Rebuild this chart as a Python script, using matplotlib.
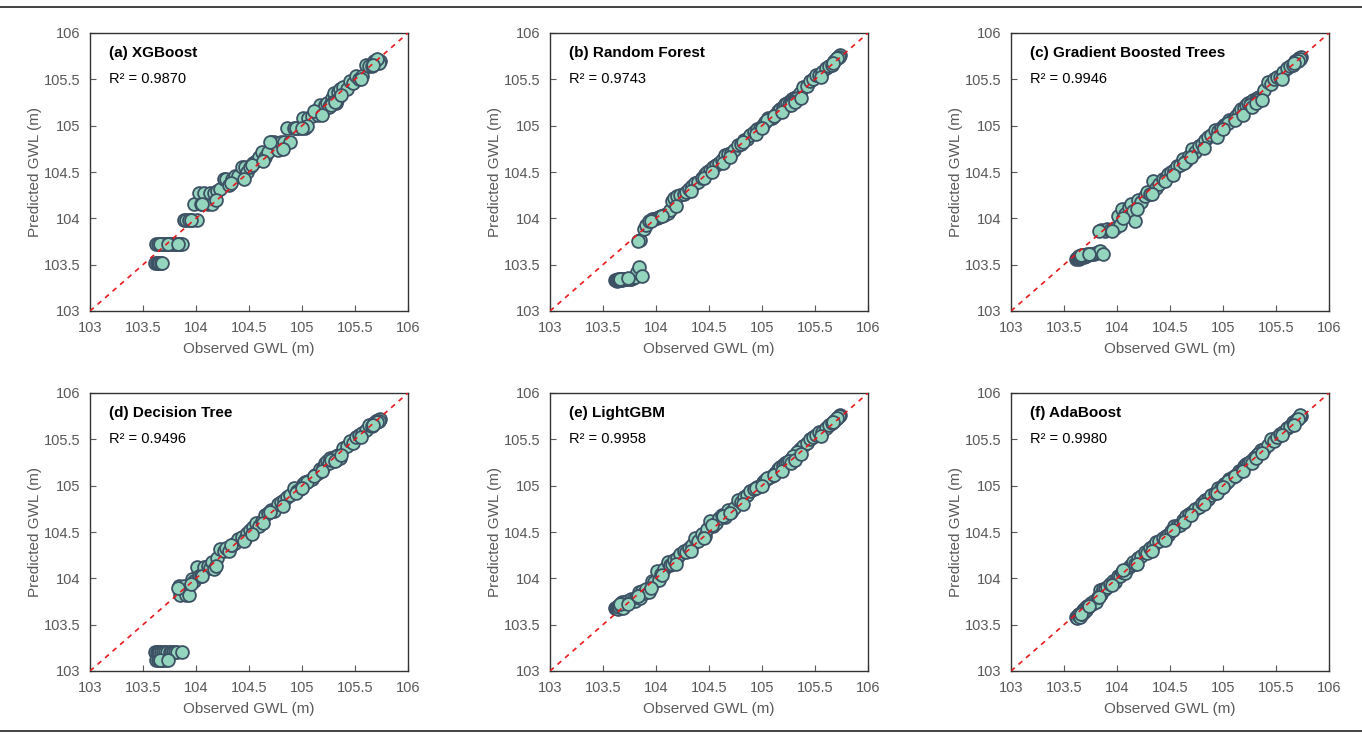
import matplotlib
matplotlib.use("Agg")
import matplotlib.pyplot as plt
from matplotlib.lines import Line2D
import numpy as np

plt.rcParams["font.family"] = ["Liberation Sans", "DejaVu Sans"]

# Observed groundwater levels of the test set (m)
observed = [
    103.61, 103.62, 103.63, 103.64, 103.64, 103.65, 103.66, 103.67, 103.68, 103.69,
    103.70, 103.71, 103.72, 103.73, 103.75, 103.76, 103.78, 103.80, 103.82, 103.84,
    103.85, 103.87, 103.89, 103.91, 103.93, 103.96, 103.98, 104.01, 104.03, 104.05,
    104.08, 104.11, 104.13, 104.15, 104.17, 104.20, 104.23, 104.26, 104.28, 104.31,
    104.34, 104.37, 104.40, 104.43, 104.46, 104.48, 104.51, 104.54, 104.57, 104.59,
    104.62, 104.65, 104.68, 104.71, 104.74, 104.77, 104.80, 104.83, 104.86, 104.89,
    104.92, 104.95, 104.98, 105.01, 105.03, 105.06, 105.09, 105.12, 105.15, 105.17,
    105.20, 105.22, 105.24, 105.26, 105.28, 105.30, 105.32, 105.34, 105.36, 105.39,
    105.42, 105.45, 105.48, 105.51, 105.54, 105.57, 105.60, 105.63, 105.66, 105.68,
    105.70, 105.72, 105.74, 105.73, 105.71, 105.67, 105.33, 105.29, 105.25, 105.05,
    103.66, 103.74, 103.83, 103.95, 104.06, 104.19, 104.33, 104.45, 104.53, 104.63,
    104.70, 104.82, 104.94, 105.00, 105.11, 105.19, 105.27, 105.31, 105.37, 105.56,
]

pred_xgb = [
    103.52, 103.72, 103.52, 103.72, 103.52, 103.52, 103.72, 103.52, 103.52, 103.72,
    103.72, 103.72, 103.72, 103.72, 103.72, 103.72, 103.72, 103.72, 103.72, 103.72,
    103.72, 103.72, 103.98, 103.98, 103.98, 103.98, 104.15, 103.98, 104.27, 104.15,
    104.27, 104.15, 104.27, 104.15, 104.27, 104.30, 104.32, 104.42, 104.42, 104.36,
    104.42, 104.46, 104.46, 104.55, 104.55, 104.50, 104.55, 104.60, 104.62, 104.66,
    104.72, 104.66, 104.72, 104.82, 104.82, 104.74, 104.82, 104.82, 104.98, 104.82,
    104.98, 104.98, 104.98, 105.08, 104.98, 105.08, 105.10, 105.16, 105.12, 105.22,
    105.16, 105.22, 105.25, 105.22, 105.30, 105.35, 105.25, 105.36, 105.40, 105.42,
    105.40, 105.48, 105.46, 105.54, 105.50, 105.54, 105.65, 105.64, 105.64, 105.70,
    105.70, 105.71, 105.70, 105.68, 105.72, 105.66, 105.28, 105.26, 105.20, 105.00,
    103.72, 103.72, 103.72, 103.98, 104.15, 104.20, 104.38, 104.42, 104.58, 104.62,
    104.82, 104.75, 104.98, 104.98, 105.16, 105.12, 105.22, 105.26, 105.33, 105.50,
]

pred_rf = [
    103.33, 103.33, 103.32, 103.34, 103.33, 103.33, 103.34, 103.33, 103.33, 103.34,
    103.34, 103.34, 103.34, 103.35, 103.35, 103.35, 103.36, 103.37, 103.42, 103.47,
    103.77, 103.38, 103.89, 103.93, 103.97, 103.99, 103.99, 104.00, 104.01, 104.02,
    104.04, 104.06, 104.09, 104.19, 104.22, 104.24, 104.25, 104.26, 104.28, 104.32,
    104.35, 104.38, 104.39, 104.44, 104.48, 104.50, 104.52, 104.55, 104.58, 104.60,
    104.63, 104.68, 104.69, 104.71, 104.74, 104.79, 104.80, 104.84, 104.86, 104.90,
    104.93, 104.96, 104.98, 105.01, 105.04, 105.08, 105.08, 105.12, 105.16, 105.18,
    105.20, 105.23, 105.25, 105.27, 105.29, 105.30, 105.31, 105.32, 105.35, 105.42,
    105.43, 105.48, 105.50, 105.55, 105.55, 105.58, 105.62, 105.64, 105.66, 105.70,
    105.72, 105.74, 105.76, 105.74, 105.73, 105.68, 105.30, 105.26, 105.22, 105.06,
    103.34, 103.36, 103.76, 103.97, 104.02, 104.13, 104.30, 104.43, 104.50, 104.60,
    104.66, 104.82, 104.91, 104.97, 105.10, 105.15, 105.22, 105.26, 105.30, 105.52,
]

pred_gbt = [
    103.56, 103.57, 103.58, 103.56, 103.59, 103.57, 103.58, 103.59, 103.60, 103.58,
    103.60, 103.59, 103.61, 103.60, 103.61, 103.62, 103.62, 103.63, 103.64, 103.65,
    103.87, 103.61, 103.86, 103.88, 103.87, 103.89, 103.90, 104.02, 103.93, 104.10,
    104.05, 104.12, 104.16, 104.08, 103.97, 104.20, 104.18, 104.24, 104.28, 104.26,
    104.40, 104.33, 104.37, 104.42, 104.44, 104.48, 104.50, 104.52, 104.56, 104.58,
    104.64, 104.62, 104.67, 104.75, 104.72, 104.78, 104.80, 104.84, 104.88, 104.90,
    104.95, 104.94, 104.98, 105.01, 105.02, 105.06, 105.07, 105.10, 105.15, 105.18,
    105.19, 105.22, 105.24, 105.26, 105.28, 105.27, 105.30, 105.31, 105.30, 105.39,
    105.47, 105.45, 105.50, 105.52, 105.52, 105.58, 105.62, 105.64, 105.66, 105.70,
    105.71, 105.73, 105.74, 105.72, 105.70, 105.68, 105.28, 105.25, 105.22, 105.03,
    103.60, 103.62, 103.86, 103.86, 104.00, 104.10, 104.26, 104.40, 104.47, 104.60,
    104.66, 104.76, 104.88, 104.96, 105.06, 105.12, 105.20, 105.24, 105.28, 105.50,
]

pred_dt = [
    103.20, 103.12, 103.20, 103.12, 103.20, 103.20, 103.12, 103.20, 103.12, 103.20,
    103.12, 103.20, 103.12, 103.20, 103.20, 103.20, 103.20, 103.20, 103.20, 103.92,
    103.82, 103.20, 103.92, 103.82, 103.82, 103.99, 103.97, 104.12, 104.02, 104.02,
    104.12, 104.13, 104.11, 104.18, 104.10, 104.22, 104.32, 104.30, 104.33, 104.30,
    104.36, 104.38, 104.42, 104.45, 104.42, 104.49, 104.52, 104.55, 104.60, 104.57,
    104.62, 104.68, 104.70, 104.74, 104.73, 104.80, 104.82, 104.85, 104.88, 104.90,
    104.98, 104.94, 104.96, 105.02, 105.04, 105.05, 105.07, 105.12, 105.14, 105.18,
    105.19, 105.24, 105.27, 105.30, 105.29, 105.31, 105.28, 105.33, 105.30, 105.41,
    105.43, 105.48, 105.46, 105.53, 105.55, 105.57, 105.60, 105.65, 105.64, 105.68,
    105.70, 105.71, 105.72, 105.70, 105.69, 105.65, 105.32, 105.27, 105.24, 105.04,
    103.12, 103.12, 103.90, 103.94, 104.03, 104.13, 104.36, 104.40, 104.48, 104.60,
    104.72, 104.78, 104.92, 104.98, 105.10, 105.16, 105.28, 105.27, 105.33, 105.52,
]

pred_lgbm = [
    103.68, 103.68, 103.69, 103.67, 103.70, 103.69, 103.72, 103.70, 103.74, 103.68,
    103.73, 103.75, 103.74, 103.76, 103.74, 103.78, 103.77, 103.76, 103.80, 103.85,
    103.79, 103.86, 103.84, 103.88, 103.85, 103.97, 103.96, 104.08, 103.98, 104.05,
    104.10, 104.18, 104.14, 104.15, 104.20, 104.22, 104.26, 104.30, 104.28, 104.33,
    104.36, 104.44, 104.40, 104.48, 104.46, 104.53, 104.62, 104.56, 104.60, 104.65,
    104.68, 104.66, 104.74, 104.72, 104.76, 104.85, 104.82, 104.88, 104.90, 104.94,
    104.96, 104.99, 105.00, 105.04, 105.06, 105.08, 105.10, 105.14, 105.18, 105.20,
    105.22, 105.24, 105.26, 105.28, 105.30, 105.31, 105.34, 105.36, 105.40, 105.43,
    105.46, 105.50, 105.52, 105.55, 105.58, 105.58, 105.62, 105.66, 105.68, 105.70,
    105.72, 105.74, 105.76, 105.75, 105.73, 105.69, 105.36, 105.32, 105.27, 105.08,
    103.72, 103.72, 103.81, 103.90, 104.04, 104.16, 104.30, 104.43, 104.58, 104.67,
    104.70, 104.80, 104.97, 105.00, 105.12, 105.16, 105.24, 105.28, 105.34, 105.54,
]

pred_ada = [
    103.58, 103.57, 103.60, 103.59, 103.62, 103.58, 103.63, 103.61, 103.66, 103.64,
    103.68, 103.66, 103.70, 103.69, 103.73, 103.72, 103.76, 103.75, 103.80, 103.87,
    103.83, 103.89, 103.88, 103.91, 103.94, 103.97, 103.96, 104.03, 104.02, 104.07,
    104.06, 104.12, 104.14, 104.18, 104.16, 104.22, 104.24, 104.28, 104.27, 104.33,
    104.35, 104.39, 104.40, 104.44, 104.46, 104.47, 104.51, 104.56, 104.57, 104.58,
    104.63, 104.67, 104.69, 104.72, 104.75, 104.77, 104.81, 104.84, 104.86, 104.90,
    104.92, 104.97, 104.98, 105.02, 105.03, 105.07, 105.09, 105.12, 105.16, 105.16,
    105.21, 105.23, 105.24, 105.27, 105.28, 105.31, 105.33, 105.35, 105.38, 105.40,
    105.44, 105.50, 105.48, 105.52, 105.56, 105.58, 105.62, 105.64, 105.69, 105.70,
    105.72, 105.74, 105.75, 105.76, 105.72, 105.66, 105.34, 105.30, 105.26, 105.05,
    103.62, 103.70, 103.80, 103.93, 104.09, 104.16, 104.30, 104.41, 104.52, 104.61,
    104.68, 104.80, 104.92, 104.99, 105.10, 105.16, 105.25, 105.30, 105.35, 105.55,
]

titles = ["(a) XGBoost", "(b) Random Forest", "(c) Gradient Boosted Trees",
          "(d) Decision Tree", "(e) LightGBM", "(f) AdaBoost"]
r2_values = ["0.9870", "0.9743", "0.9946", "0.9496", "0.9958", "0.9980"]
predictions = [pred_xgb, pred_rf, pred_gbt, pred_dt, pred_lgbm, pred_ada]
ticks = [103, 103.5, 104, 104.5, 105, 105.5, 106]
tick_labels = ["103", "103.5", "104", "104.5", "105", "105.5", "106"]

W, H = 1362, 738
fig = plt.figure(figsize=(W / 100, H / 100), dpi=100)

# Axes boxes in pixels: left, top, width, height
lefts = [90, 550, 1011]
tops = [33, 393]
aw, ah = 318, 278

grey = "#595959"
obs = np.array(observed)

for i, (title, r2, pred) in enumerate(zip(titles, r2_values, predictions)):
    row, col = divmod(i, 3)
    l, t = lefts[col], tops[row]
    ax = fig.add_axes([l / W, (H - t - ah) / H, aw / W, ah / H])

    ax.scatter(obs, np.array(pred), s=85, facecolor="#93d5bd",
               edgecolor="#3d5164", linewidth=1.3, zorder=2)
    ax.plot([103, 106], [103, 106], linestyle=(0, (3, 3)), color="#e8191c",
            linewidth=1.2, zorder=3)

    ax.set_xlim(103, 106)
    ax.set_ylim(103, 106)
    ax.set_xticks(ticks)
    ax.set_xticklabels(tick_labels)
    ax.set_yticks(ticks)
    ax.set_yticklabels(tick_labels)
    ax.tick_params(direction="in", length=4, width=0.8, color=grey,
                   labelcolor=grey, labelsize=10.5)
    ax.tick_params(axis="y", pad=7)
    ax.tick_params(axis="x", pad=7)
    for sp in ax.spines.values():
        sp.set_color("#333333")
        sp.set_linewidth(1.0)

    ax.set_xlabel("Observed GWL (m)", color=grey, fontsize=11, labelpad=5.5)
    ax.set_ylabel("Predicted GWL (m)", color=grey, fontsize=11, labelpad=1.5)

    ax.text(0.06, 0.915, title, transform=ax.transAxes, fontsize=11,
            fontweight="bold", color="black", va="baseline")
    ax.text(0.06, 0.82, "R\u00b2 = " + r2, transform=ax.transAxes,
            fontsize=10.5, color="black", va="baseline")

# Horizontal rules at top and bottom of the figure
for yp in (7, 731):
    fig.add_artist(Line2D([0, 1], [(H - yp) / H, (H - yp) / H],
                          transform=fig.transFigure, color="#222222",
                          linewidth=1.2))

fig.savefig("out.png", dpi=100, facecolor="white")
plt.close(fig)
